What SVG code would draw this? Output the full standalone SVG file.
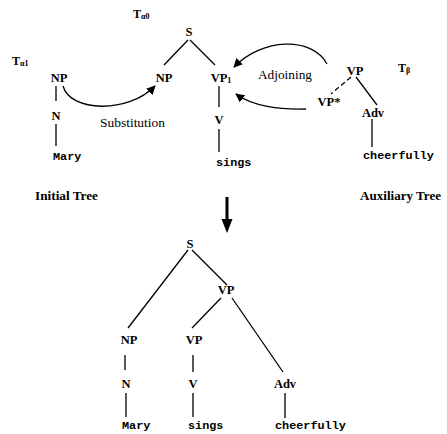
<svg xmlns="http://www.w3.org/2000/svg" width="447" height="434" viewBox="0 0 447 434">
<defs>
<style>
.lbl{font-family:"Liberation Serif","Times New Roman",serif;font-weight:bold;font-size:12.5px;fill:#000;text-anchor:middle}
.word{font-family:"Liberation Mono","DejaVu Sans Mono",monospace;font-weight:bold;font-size:11.8px;fill:#000}
.cap{font-family:"Liberation Serif","Times New Roman",serif;font-size:13.5px;fill:#000}
.capb{font-family:"Liberation Serif","Times New Roman",serif;font-weight:bold;font-size:12.5px;fill:#000}
.tt{font-family:"Liberation Serif","Times New Roman",serif;font-weight:bold;font-size:12px;fill:#000}
.sub{font-size:8px}
.e{stroke:#000;stroke-width:1.3;fill:none}
</style>
<marker id="ah" viewBox="0 0 10 10" refX="9" refY="5" markerWidth="9" markerHeight="9" markerUnits="userSpaceOnUse" orient="auto">
<path d="M0,0 L10,5 L0,10 z" fill="#000"/>
</marker>
</defs>
<rect width="447" height="434" fill="#fff"/>

<g id="titles">
<text class="tt" x="133" y="18">T<tspan class="sub" dy="1">α0</tspan></text>
<text class="tt" x="12" y="65">T<tspan class="sub" dy="1">α1</tspan></text>
<text class="tt" x="398" y="72">T<tspan class="sub" dy="1">β</tspan></text>
<text class="capb" x="35" y="200" textLength="63" lengthAdjust="spacingAndGlyphs">Initial Tree</text>
<text class="capb" x="360" y="200" textLength="81" lengthAdjust="spacingAndGlyphs">Auxiliary Tree</text>
<text class="cap" x="100" y="127" textLength="65" lengthAdjust="spacingAndGlyphs">Substitution</text>
<text class="cap" x="258" y="79" textLength="54" lengthAdjust="spacingAndGlyphs">Adjoining</text>
</g>

<g id="connectors">
<!-- T alpha1 -->
<line class="e" x1="56" y1="86" x2="56" y2="101"/>
<line class="e" x1="56" y1="124" x2="56" y2="146"/>
<!-- T alpha0 -->
<line class="e" x1="188" y1="40" x2="164" y2="65"/>
<line class="e" x1="190" y1="40" x2="215" y2="65"/>
<line class="e" x1="219" y1="86" x2="219" y2="107"/>
<line class="e" x1="219" y1="129" x2="219" y2="152"/>
<!-- T beta -->
<line class="e" x1="351" y1="77" x2="331" y2="94" stroke-dasharray="5,3" stroke-width="2"/>
<line class="e" x1="356" y1="77" x2="377" y2="105"/>
<line class="e" x1="372" y1="119" x2="372" y2="147"/>
<!-- operations -->
<path class="e" d="M63,86 C70,112 128,114 155,86" marker-end="url(#ah)"/>
<path class="e" d="M327,64 C312,36 262,38 234,67" marker-end="url(#ah)"/>
<path class="e" d="M306,109 C280,110 252,106 236,94" marker-end="url(#ah)"/>
<!-- down arrow -->
<line x1="227" y1="197" x2="227" y2="221" stroke="#000" stroke-width="3"/>
<polygon points="221.5,219 232.5,219 227,233" fill="#000"/>
<!-- derived tree -->
<line class="e" x1="188" y1="250" x2="128" y2="328"/>
<line class="e" x1="192" y1="250" x2="227" y2="285"/>
<line class="e" x1="221" y1="298" x2="192" y2="328"/>
<line class="e" x1="232" y1="298" x2="283" y2="372"/>
<line class="e" x1="125" y1="355" x2="125" y2="370"/>
<line class="e" x1="126" y1="393" x2="126" y2="417"/>
<line class="e" x1="193" y1="355" x2="193" y2="372"/>
<line class="e" x1="193" y1="393" x2="193" y2="417"/>
<line class="e" x1="285" y1="393" x2="285" y2="418"/>
</g>

<g id="n_alpha1_NP"><text class="lbl" x="59" y="82">NP</text></g>
<g id="n_alpha1_N"><text class="lbl" x="56" y="120">N</text></g>
<g id="n_alpha1_Mary"><text class="word" x="53" y="160">Mary</text></g>

<g id="n_alpha0_S"><text class="lbl" x="189" y="36">S</text></g>
<g id="n_alpha0_NP"><text class="lbl" x="164" y="82">NP</text></g>
<g id="n_alpha0_VP"><text class="lbl" x="221" y="82">VP<tspan font-size="8" dy="1">1</tspan></text></g>
<g id="n_alpha0_V"><text class="lbl" x="219" y="124">V</text></g>
<g id="n_alpha0_sings"><text class="word" x="216" y="166">sings</text></g>

<g id="n_beta_VP"><text class="lbl" x="355" y="75">VP</text></g>
<g id="n_beta_VPstar"><text class="lbl" x="329" y="106">VP*</text></g>
<g id="n_beta_Adv"><text class="lbl" x="373" y="117">Adv</text></g>
<g id="n_beta_cheerfully"><text class="word" x="363" y="159">cheerfully</text></g>

<g id="d_S"><text class="lbl" x="190" y="248">S</text></g>
<g id="d_VP"><text class="lbl" x="226" y="294">VP</text></g>
<g id="d_NP"><text class="lbl" x="129" y="344">NP</text></g>
<g id="d_VP2"><text class="lbl" x="194" y="344">VP</text></g>
<g id="d_N"><text class="lbl" x="126" y="388">N</text></g>
<g id="d_V"><text class="lbl" x="193" y="388">V</text></g>
<g id="d_Adv"><text class="lbl" x="285" y="388">Adv</text></g>
<g id="d_Mary"><text class="word" x="122" y="429">Mary</text></g>
<g id="d_sings"><text class="word" x="188" y="429">sings</text></g>
<g id="d_cheerfully"><text class="word" x="275" y="429">cheerfully</text></g>
</svg>
